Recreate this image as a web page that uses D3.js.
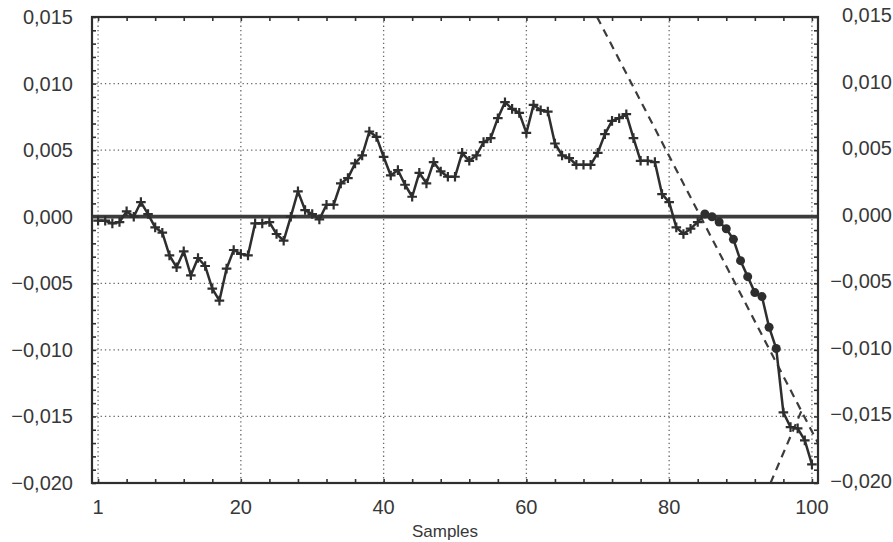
<!DOCTYPE html>
<html>
<head>
<meta charset="utf-8">
<script src="https://cdn.jsdelivr.net/npm/d3@7"></script>
<style>
  html, body { margin: 0; padding: 0; background: #fff; }
  svg { display: block; }
  text { font-family: "Liberation Sans", Arial, sans-serif; fill: #383838; }
</style>
</head>
<body>
<div id="chart"></div>
<script>
// sample values (index 0 is labelled "1")
const values = [
  -0.0003, -0.0003, -0.0005, -0.0004, 0.0004, 0.0000, 0.0011, 0.0002, -0.0008, -0.0012,
  -0.0029, -0.0038, -0.0026, -0.0044, -0.0031, -0.0037, -0.0054, -0.0063, -0.0039, -0.0025,
  -0.0028, -0.0029, -0.0005, -0.0005, -0.0004, -0.0013, -0.0018, 0.0000, 0.0019, 0.0005,
  0.0002, -0.0002, 0.0009, 0.0009, 0.0025, 0.0029, 0.0040, 0.0046, 0.0064, 0.0060,
  0.0045, 0.0031, 0.0035, 0.0024, 0.0015, 0.0033, 0.0025, 0.0041, 0.0034, 0.0030,
  0.0030, 0.0048, 0.0042, 0.0046, 0.0056, 0.0059, 0.0074, 0.0086, 0.0081, 0.0078,
  0.0063, 0.0084, 0.0080, 0.0079, 0.0055, 0.0046, 0.0044, 0.0039, 0.0039, 0.0039,
  0.0048, 0.0062, 0.0072, 0.0074, 0.0077, 0.0059, 0.0042, 0.0042, 0.0041, 0.0017,
  0.0011, -0.0008, -0.0013, -0.0009, -0.0004, 0.0002, 0.0000, -0.0004, -0.0009, -0.0017,
  -0.0033, -0.0045, -0.0057, -0.0060, -0.0083, -0.0099, -0.0147, -0.0158, -0.0159, -0.0168,
  -0.0186
];
// samples drawn with filled circles instead of crosses
const circleSamples = [85, 86, 87, 88, 89, 90, 91, 92, 93, 94, 95];
// dashed lines, [sample, value] end points
const dashA = [[69.9, 0.0150], [100.85, -0.0170]];
const dashB = [[94.2, -0.0200], [98.6, -0.0145]];

const xTicks = [0, 20, 40, 60, 80, 100];
const xTickLabels = ["1", "20", "40", "60", "80", "100"];
const yTicks = [0.015, 0.010, 0.005, 0.000, -0.005, -0.010, -0.015, -0.020];

const W = 893, H = 542;
const margin = { top: 17, right: 75, bottom: 59, left: 92 };
const width = W - margin.left - margin.right;
const height = H - margin.top - margin.bottom;

const x = d3.scaleLinear().domain([-0.85, 100.85]).range([0, width]);
const y = d3.scaleLinear().domain([-0.020, 0.015]).range([height, 0]);

const fmt = d3.formatLocale({
  decimal: ",", thousands: ".", grouping: [3], currency: ["", ""], minus: "\u2212"
}).format(".3f");

const svg = d3.select('#chart')
  .append('svg')
  .attr('width', W)
  .attr('height', H);

const g = svg.append('g')
  .attr('transform', `translate(${margin.left}, ${margin.top})`);

// dotted grid
g.append('g')
  .selectAll('line')
  .data(xTicks)
  .enter()
  .append('line')
  .attr('x1', d => x(d)).attr('x2', d => x(d))
  .attr('y1', 0).attr('y2', height)
  .attr('stroke', '#666')
  .attr('stroke-width', 1.3)
  .attr('stroke-dasharray', '1.3,3');

g.append('g')
  .selectAll('line')
  .data(yTicks)
  .enter()
  .append('line')
  .attr('x1', 0).attr('x2', width)
  .attr('y1', d => y(d)).attr('y2', d => y(d))
  .attr('stroke', '#666')
  .attr('stroke-width', 1.3)
  .attr('stroke-dasharray', '1.3,3');

// minor / major ticks, pointing inwards on all four sides
const xMinor = d3.range(0, 101, 4);
const yMinor = d3.range(-20, 16).map(v => v / 1000);

const tickStyle = sel => {
  sel.select('.domain').remove();
  sel.selectAll('line').attr('stroke', '#333').attr('stroke-width', 1.6);
};
g.append('g').attr('transform', `translate(0, ${height})`)
  .call(d3.axisBottom(x).tickValues(xMinor).tickSize(-4).tickFormat('')).call(tickStyle);
g.append('g')
  .call(d3.axisTop(x).tickValues(xMinor).tickSize(-4).tickFormat('')).call(tickStyle);
g.append('g')
  .call(d3.axisLeft(y).tickValues(yMinor).tickSize(-4).tickFormat('')).call(tickStyle);
g.append('g').attr('transform', `translate(${width}, 0)`)
  .call(d3.axisRight(y).tickValues(yMinor).tickSize(-4).tickFormat('')).call(tickStyle);

// zero line
g.append('line')
  .attr('x1', 0).attr('x2', width)
  .attr('y1', y(0)).attr('y2', y(0))
  .attr('stroke', '#3c3c3c')
  .attr('stroke-width', 3.8);

// dashed lines
const line = d3.line().x(d => x(d[0])).y(d => y(d[1]));
g.append('defs').append('clipPath').attr('id', 'clip')
  .append('rect').attr('width', width).attr('height', height);

[dashA, dashB].forEach(pts => {
  g.append('path')
    .attr('d', line(pts))
    .attr('clip-path', 'url(#clip)')
    .attr('fill', 'none')
    .attr('stroke', '#3c3c3c')
    .attr('stroke-width', 2.2)
    .attr('stroke-dasharray', '8,6');
});

// main series
const series = values.map((v, i) => [i, v]);
g.append('path')
  .attr('d', line(series))
  .attr('fill', 'none')
  .attr('stroke', '#2e2e2e')
  .attr('stroke-width', 2.5)
  .attr('stroke-linejoin', 'round');

const crosses = series.filter(d => circleSamples.indexOf(d[0]) < 0);
const cs = 4.8;
g.append('g')
  .selectAll('path')
  .data(crosses)
  .enter()
  .append('path')
  .attr('d', d => {
    const px = x(d[0]), py = y(d[1]);
    return `M${px - cs},${py}H${px + cs}M${px},${py - cs}V${py + cs}`;
  })
  .attr('stroke', '#2e2e2e')
  .attr('stroke-width', 2.2);

g.append('g')
  .selectAll('circle')
  .data(series.filter(d => circleSamples.indexOf(d[0]) >= 0))
  .enter()
  .append('circle')
  .attr('cx', d => x(d[0]))
  .attr('cy', d => y(d[1]))
  .attr('r', 4.5)
  .attr('fill', '#2e2e2e');

// frame
g.append('rect')
  .attr('width', width).attr('height', height)
  .attr('fill', 'none')
  .attr('stroke', '#2e2e2e')
  .attr('stroke-width', 2.2);

// tick labels
g.append('g')
  .selectAll('text')
  .data(yTicks)
  .enter()
  .append('text')
  .attr('x', -19)
  .attr('y', d => y(d) + 7)
  .attr('text-anchor', 'end')
  .style('font-size', '20px')
  .text(d => fmt(d));

g.append('g')
  .selectAll('text')
  .data(yTicks)
  .enter()
  .append('text')
  .attr('x', width + 74)
  .attr('y', d => y(d) + 5)
  .attr('text-anchor', 'end')
  .style('font-size', '20px')
  .text(d => fmt(d));

g.append('g')
  .selectAll('text')
  .data(xTicks)
  .enter()
  .append('text')
  .attr('x', d => x(d))
  .attr('y', height + 31)
  .attr('text-anchor', 'middle')
  .style('font-size', '20px')
  .text((d, i) => xTickLabels[i]);

g.append('text')
  .attr('x', x(48.6))
  .attr('y', height + 54)
  .attr('text-anchor', 'middle')
  .style('font-size', '17px')
  .text('Samples');
</script>
</body>
</html>
